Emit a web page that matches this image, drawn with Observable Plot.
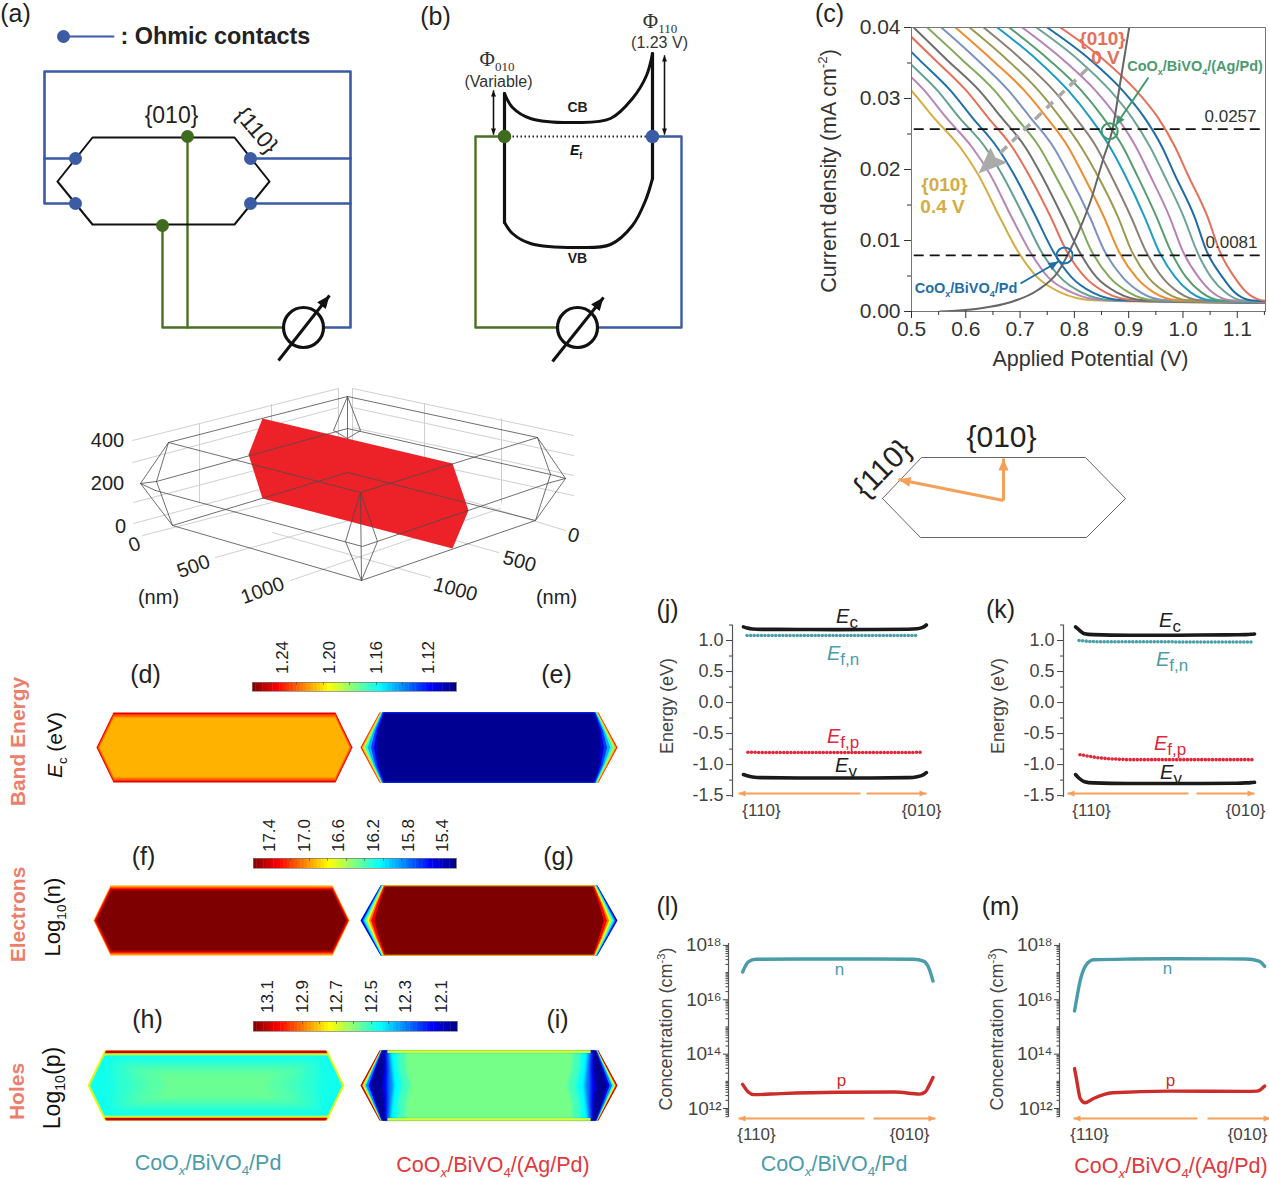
<!DOCTYPE html>
<html><head><meta charset="utf-8">
<script src="https://cdn.jsdelivr.net/npm/d3@7"></script>
<script src="https://cdn.jsdelivr.net/npm/@observablehq/plot@0.6"></script>
<style>
html,body{margin:0;background:#fff}
#page{position:relative;width:1269px;height:1178px;overflow:hidden;font-family:"Liberation Sans",Arial,sans-serif}
#page>svg,#page>div.p{position:absolute}
.r{position:absolute;white-space:nowrap;line-height:1.25}
.r sub,.r sup{font-size:.62em;line-height:0}
.r.big sub{font-size:.85em}
</style></head><body><div id="page"></div>
<script>
// ---------- panel (c): potential (V) where each of the 17 curves passes a given current
const currentLevels=[0.04,0.0354,0.0311,0.0273,0.0231,0.0194,0.0132,0.0086,0.0048,0.0027,0.0016];
const V_at_0400=[.388,.410,.432,.454,.482,.504,.529,.555,.581,.607,.633,.658,.680,.704,.730,.750,.774];
const V_at_0354=[.443,.467,.491,.515,.544,.566,.594,.622,.649,.677,.704,.732,.754,.780,.808,.830,.855];
const V_at_0311=[.500,.524,.548,.572,.601,.625,.653,.679,.708,.734,.762,.789,.813,.839,.866,.889,.914];
const V_at_0273=[.541,.564,.588,.612,.641,.666,.693,.719,.749,.774,.802,.829,.853,.879,.906,.929,.954];
const V_at_0231=[.590,.612,.636,.658,.686,.710,.736,.762,.789,.813,.841,.866,.890,.914,.940,.962,.986];
const V_at_0194=[.622,.644,.666,.688,.715,.738,.763,.789,.815,.841,.866,.892,.914,.938,.964,.984,1.008];
const V_at_0132=[.663,.685,.708,.730,.757,.779,.805,.829,.855,.881,.905,.930,.952,.976,1.002,1.022,1.046];
const V_at_0086=[.695,.717,.738,.760,.785,.808,.831,.855,.881,.905,.931,.955,.977,.999,1.025,1.043,1.067];
const V_at_0048=[.732,.752,.774,.795,.820,.841,.865,.889,.914,.936,.962,.986,1.006,1.029,1.052,1.073,1.095];
const V_at_0027=[.774,.795,.813,.833,.857,.878,.900,.922,.946,.968,.992,1.014,1.034,1.054,1.078,1.095,1.117];
const V_at_0016=[.835,.854,.870,.889,.911,.927,.947,.968,.990,1.008,1.030,1.051,1.067,1.087,1.107,1.124,1.143];
const tailCurrent=[.00120,.00122,.00124,.00126,.00128,.0013,.00132,.00133,.00134,.00135,.00136,.00138,.0014,.00142,.00144,.00146,.0015];
const curveColors=["#d4ad45","#b687b8","#64a08f","#1f70ab","#e5705a","#6e6e6e","#83a85c","#7a92bf","#ee8c2e","#9a9a52","#8f8076","#1f9cc4","#5a9c72","#b583b8","#6ea498","#1f6ca6","#e5705a"];
const ivV=[.553,.622,.682,.732,.769,.798,.830,.854,.870,.885,.901];
const ivJ=[0,.0004,.0013,.0030,.0055,.0096,.0156,.0217,.0256,.0325,.04];
const cXTicks=[.5,.6,.7,.8,.9,1.0,1.1], cXMinor=[.55,.65,.75,.85,.95,1.05,1.15];
const cYTicks=[0,.01,.02,.03,.04], cYMinor=[.005,.015,.025,.035];
const refLines=[.0257,.0079];
// ---------- panels (j)(k)
const bandX=[0,.02,.05,.1,.3,.5,.7,.9,.95,.98,1];
const ecJ=[1.22,1.2,1.185,1.18,1.178,1.176,1.178,1.182,1.19,1.21,1.25];
const evJ=[-1.16,-1.18,-1.2,-1.21,-1.215,-1.215,-1.215,-1.21,-1.195,-1.17,-1.13];
const ecK=[1.22,1.17,1.11,1.095,1.085,1.085,1.088,1.092,1.095,1.1,1.105];
const evK=[-1.16,-1.22,-1.275,-1.295,-1.305,-1.305,-1.305,-1.3,-1.295,-1.29,-1.285];
const dotX=[.02,.04,.06,.08,.1,.12,.14,.16,.18,.2,.22,.24,.26,.28,.3,.32,.34,.36,.38,.4,.42,.44,.46,.48,.5,.52,.54,.56,.58,.6,.62,.64,.66,.68,.7,.72,.74,.76,.78,.8,.82,.84,.86,.88,.9,.92,.94,.96,.98];
const efnJ=[1.08,1.08,1.08,1.08,1.08,1.08,1.08,1.08,1.08,1.08,1.08,1.08,1.08,1.08,1.08,1.08,1.08,1.08,1.08,1.08,1.08,1.08,1.08,1.08,1.08,1.08,1.08,1.08,1.08,1.08,1.08,1.08,1.08,1.08,1.08,1.08,1.08,1.08,1.08,1.08,1.08,1.08,1.08,1.08,1.08,1.08,1.08,1.08,null];
const efpJ=[-.8,-.8,-.8,-.805,-.805,-.805,-.805,-.805,-.805,-.805,-.805,-.805,-.805,-.805,-.805,-.805,-.805,-.805,-.805,-.805,-.805,-.805,-.805,-.805,-.805,-.805,-.805,-.805,-.805,-.805,-.805,-.805,-.805,-.805,-.805,-.805,-.805,-.805,-.805,-.805,-.805,-.805,-.805,-.805,-.805,-.805,-.805,-.8,-.8];
const efnK=[1.0,.995,.99,.985,.985,.98,.98,.98,.98,.98,.98,.98,.98,.98,.98,.98,.98,.98,.98,.98,.98,.98,.98,.98,.98,.98,.98,.975,.975,.975,.975,.975,.975,.975,.975,.975,.975,.975,.975,.975,.975,.975,.975,.975,.975,.975,.975,.975,.975];
const efpK=[-.84,-.85,-.86,-.87,-.88,-.89,-.895,-.9,-.905,-.91,-.91,-.915,-.915,-.92,-.92,-.92,-.92,-.92,-.92,-.92,-.92,-.92,-.92,-.92,-.92,-.92,-.92,-.92,-.92,-.92,-.92,-.92,-.92,-.92,-.92,-.92,-.92,-.92,-.92,-.92,-.92,-.92,-.92,-.92,-.92,-.92,-.92,-.92,-.92];
const energyTicks=[-1.5,-1,-.5,0,.5,1], energyMinor=[-1.25,-.75,-.25,.25,.75,1.25];
// ---------- panels (l)(m), log10 concentration
const nXL=[0,.03,.07,.3,.5,.7,.9,.95,.98,1];
const nL=[17.02,17.39,17.49,17.5,17.5,17.5,17.49,17.42,17.14,16.69];
const pXL=[0,.03,.06,.2,.5,.8,.93,.96,.98,1];
const pL=[12.89,12.61,12.51,12.55,12.6,12.61,12.53,12.61,12.85,13.14];
const nXM=[0,.01,.03,.06,.1,.3,.5,.9,.97,1];
const nM=[15.59,15.98,16.71,17.27,17.47,17.5,17.51,17.5,17.42,17.23];
const pXM=[0,.01,.03,.055,.1,.2,.5,.9,.96,1];
const pM=[13.47,13.1,12.37,12.21,12.37,12.58,12.64,12.63,12.64,12.83];
const concTicks=[1e12,1e14,1e16,1e18];
const supDigits={"1":"¹","2":"²","4":"⁴","6":"⁶","8":"⁸"};
// ---------- schematic outlines (sheet units)
const blueA=[[[44,158],[44,71],[350,71],[350,327],[323,327]],[[44,158],[74,158]],[[44,158],[44,203],[74,203]],[[249,158],[350,158]],[[249,203],[350,203]]];
const greenA=[[[187,136],[187,327]],[[162,225],[162,327],[283,327]]];
const hexA=[[57,181],[92,137],[234,137],[269,181],[234,224],[92,224],[57,181]];
const blueDotsA=[[75,158],[75,203],[250,158],[250,203]], greenDotsA=[[187,136],[162,225]];
const blueB=[[[652,136],[681,136],[681,327],[597,327]]], greenB=[[[504,136],[475,136],[475,327],[557,327]]];
const cbCurve=[[504,93],[512,107],[530,118],[577,122],[610,118],[632,98],[646,75],[652,53]];
const vbCurve=[[504,222],[512,233],[530,243],[577,247],[610,244],[632,225],[645,200],[652,178]];
const bandWalls=[[[504,93],[504,222]],[[652,53],[652,178]]];
const meters=[[303,327],[577,327]];
const meterArrows=[[278,360,329,295],[552,361,603,297]];
const doubleArrows=[[493,134,493,90],[493,90,493,134],[664,134,664,55],[664,55,664,134]];
const blockRed=[[262,418],[452,463],[468,510],[452,548],[262,498],[248,454]];
const wireDark=[[[168,442],[347,396],[537,437],[360,492],[168,442]],[[156,481],[347,428],[550,474]],[[155,490],[362,546],[550,482]],[[172,525],[361,580],[535,520],[347,472],[172,525]],[[360,492],[345,541],[361,580],[377,541],[360,492],[361,580]],[[347,396],[333,430],[347,438],[360,430],[347,396],[347,438]],[[168,442],[140,483],[172,525],[156,481],[168,442]],[[537,437],[565,478],[535,520],[550,474],[537,437]],[[140,483],[156,481]],[[140,483],[155,490]],[[565,478],[550,474]],[[565,478],[550,482]]];
const wireGrey=[[[132,440],[338,388]],[[132,462],[338,407]],[[133,502],[338,448]],[[133,523],[338,468]],[[142,535],[338,485]],[[352,388],[573,435]],[[352,407],[573,455]],[[352,427],[573,475]],[[352,447],[573,495]],[[352,465],[565,530]],[[215,557],[413,502]],[[290,580],[500,508]],[[498,552],[330,505]],[[430,577],[272,532]],[[199,423],[199,502]],[[271,404],[271,485]],[[338,388],[338,465]],[[352,388],[352,465]],[[424,403],[424,485]],[[501,418],[501,502]]];
const hexTop=[[882,498],[921,457],[1085,457],[1125,498],[1086,537],[920,537],[882,498]];
const orangeArrows=[[1003,500,1003,458],[1003,500,898,479],[860,793,738,793],[866,793,926,793],[1188,793,1067,793],[1196,793,1254,793],[864,1118,738,1118],[873,1118,935,1118],[1197,1118,1073,1118],[1207,1118,1270,1118]];
// ---------- maps: outline of each hexagon [left, right, top, bottom, corner run]
const outlineD=[96,352,712,782,17], outlineE=[360,617,712,782,19];
const outlineF=[93,349,885,955,17], outlineG=[360,617,885,955,20];
const outlineH=[87,344,1050,1120,17], outlineI=[360,617,1050,1120,19];
// contour layers of each map, painted in order: [level 0..1, top inset, corner inset, quarter inset, middle inset]
const layersD=[[.9,0,0,0,0],[.82,1.5,.8,1,1],[.76,3,1.6,1.8,1.8],[.70,5,2.8,3,3]];
const layersE=[[.85,0,0,0,0],[.7,0,.7,.9,1.3],[.55,0,1.3,2,2.7],[.42,0,2,3,4.6],[.3,0,2.6,4,7.2],[.18,0,3.2,5.4,10.4],[.08,0,4,7.2,13.6],[.02,0,5,9,17]];
const layersF=[[.72,0,0,0,0],[.85,2,.8,.8,.8],[.93,3.5,1.8,1.8,1.8],[1,5,3.2,3.2,3.2]];
const layersG=[[.08,0,0,0,0],[.25,0,.6,1.3,1.9],[.375,0,1.2,2.1,3.4],[.5,0,1.9,3.1,5],[.625,0,2.5,4.1,6.5],[.75,0,3.1,5.4,8.5],[.875,0,3.8,6.6,10.6],[1,.5,5,8.8,13.8]];
const layersH=[[.64,0,0,0,0],[.93,0,1.5,1.5,1.5],[.64,2.8,.6,.6,.6],[.55,3.8,1.4,1.4,1.4],[.39,5,2.4,2.4,2.6]];
const innerH=[[.40,8,8,12,18],[.42,11,15,22,30],[.44,14,28,35,45],[.46,18,40,48,60],[.48,22,60,68,80]];
const layersI=[[.98,0,0,0,0],[.85,0,.5,.8,.8],[.62,0,1,1.6,2],[.4,0,1.4,2.5,3.8],[.25,0,1.8,3.5,5.5],[.12,0,2.3,5,8],[.02,0,3,6,10.5]];
const innerI=[[.12,1,6,15,22],[.25,1,8,18,27],[.375,1,11,22,33],[.44,1,18,28,41],[.49,1,26,36,50]];
// thin edge stripes: [level, thickness, side inset]
const stripesE=[[.16,.8,3]], stripesG=[[.6,.8,4]], stripesI=[[.55,2.5,8],[.63,1.1,8]];
const jetLevels=[0,.125,.25,.375,.5,.625,.75,.875,1];
const jetColors=["#00007f","#0000ff","#007fff","#00ffff","#7fff7f","#ffff00","#ff7f00","#ff0000","#7f0000"];

// ---------- helpers
const page=document.getElementById("page");
const FF='"Liberation Sans",Arial,sans-serif';
const flat=list=>list.flatMap((pts,k)=>pts.map(([x,y])=>({x,y,k})));
const paths=(list,stroke,strokeWidth,extra={})=>Plot.line(flat(list),{x:"x",y:"y",z:"k",stroke,strokeWidth,...extra});
const xy=list=>list.map(([x,y])=>({x,y}));
function arrows(list,stroke,strokeWidth,len){
  const tips=list.flatMap(([a,b,c,d],k)=>{
    const l=Math.hypot(c-a,d-b),ux=(c-a)/l,uy=(d-b)/l,w=len*.42;
    return [{x:c,y:d,k},{x:c-ux*len-uy*w,y:d-uy*len+ux*w,k},{x:c-ux*len+uy*w,y:d-uy*len-ux*w,k}];
  });
  return [
    Plot.link(list,{x1:d=>d[0],y1:d=>d[1],x2:d=>d[2],y2:d=>d[3],stroke,strokeWidth}),
    Plot.line(tips,{x:"x",y:"y",z:"k",fill:stroke,stroke:"none",curve:"linear-closed"})
  ];
}
const txt=(list,o={})=>Plot.text(list,{x:d=>d[1],y:d=>d[2],text:d=>d[0],fontFamily:FF,fill:"#222",...o});
function rich(html,x,y,size,color="#222",o={}){
  const e=document.createElement("div");e.className="r"+(o.big?" big":"");e.innerHTML=html;
  e.style.cssText+=`left:${x}px;top:${y}px;font-size:${size}px;color:${color};transform:translate(-50%,-50%) rotate(${o.rot||0}deg);font-weight:${o.bold?700:400};font-family:${o.family||FF}`;
  page.appendChild(e);
}
function place(svg,left,top){svg.style.left=left+"px";svg.style.top=top+"px";page.appendChild(svg)}
function heatRows(outline,layers,stripes=[]){
  const [xl,xr,yt,yb,d]=outline,H=yb-yt,rows=[];
  const edge=y=>d*Math.abs(2*(y-yt)/H-1);
  const fr=[0,.25,.5,.75,1];
  layers.forEach(([t,tb,c,q,m],k)=>{
    const ins=[c,q,m,q,c];
    const ys=fr.map(f=>yt+tb+(H-2*tb)*f);
    ys.forEach((y,i)=>rows.push({x:xl+edge(y)+ins[i],y,k,t}));
    [...ys].reverse().forEach((y,j)=>{const i=4-j;rows.push({x:xr-edge(y)-ins[i],y,k,t})});
  });
  stripes.forEach(([t,h,s],n)=>{
    [[yt,yt+h],[yb-h,yb]].forEach(([a,b],w)=>{
      const k=100+n*2+w;
      [[xl+d+s,a],[xr-d-s,a],[xr-d-s,b],[xl+d+s,b]].forEach(([x,y])=>rows.push({x,y,k,t}));
    });
  });
  return rows;
}
const heat=(rows,blur=.6)=>Plot.line(rows,{x:"x",y:"y",z:"k",fill:"t",stroke:"none",curve:"linear-closed",imageFilter:`blur(${blur}px)`});
const barSteps=d3.range(0,60).map(i=>i/60);
const colorBar=(x0,x1,y0,y1,ticks)=>[
  Plot.rect(barSteps,{x1:s=>x0+s*(x1-x0),x2:s=>x0+(s+1/60)*(x1-x0)+.4,y1:()=>y0,y2:()=>y1,fill:s=>1-s-1/120}),
  paths([[[x0,y0],[x1,y0],[x1,y1],[x0,y1],[x0,y0]]],"#777",.7),
  paths(ticks.map(x=>[[x,y0],[x,y0+2]]),"#444",.6)
];

// ---------- panel (c)
const rowsC=[];
const levels=[V_at_0400,V_at_0354,V_at_0311,V_at_0273,V_at_0231,V_at_0194,V_at_0132,V_at_0086,V_at_0048,V_at_0027,V_at_0016];
curveColors.forEach((color,c)=>{
  levels.forEach((vs,l)=>rowsC.push({V:vs[c],J:currentLevels[l],c:String(c).padStart(2,"0")}));
  rowsC.push({V:1.152,J:tailCurrent[c],c:String(c).padStart(2,"0")});
});
const ivRows=ivV.map((V,i)=>({V,J:ivJ[i]}));
const chartC=Plot.plot({width:459,height:375,marginLeft:101,marginTop:27,marginRight:4,marginBottom:64,
  style:{background:"transparent",color:"#333",fontFamily:FF},
  x:{domain:[.5,1.152]},y:{domain:[0,.04]},
  color:{type:"ordinal",domain:curveColors.map((_,c)=>String(c).padStart(2,"0")),range:curveColors},
  marks:[
    Plot.line(rowsC,{x:"V",y:"J",z:"c",stroke:"c",strokeWidth:2,curve:"monotone-x",clip:"frame"}),
    Plot.line(ivRows,{x:"V",y:"J",stroke:"#666",strokeWidth:2,curve:"monotone-x",clip:"frame"}),
    Plot.ruleY(refLines,{stroke:"#111",strokeWidth:1.7,strokeDasharray:"10,6",x1:.505,x2:1.15}),
    Plot.dot([[.865,.0254]],{x:d=>d[0],y:d=>d[1],r:8,stroke:"#3f9a6a",strokeWidth:2}),
    Plot.dot([[.782,.0079]],{x:d=>d[0],y:d=>d[1],r:8,stroke:"#1f6fa8",strokeWidth:2}),
    Plot.frame({stroke:"#777",strokeWidth:1}),
    Plot.axisX(cXTicks,{tickSize:7,tickPadding:3,fontSize:21,label:null,tickFormat:d=>d.toFixed(1)}),
    Plot.axisX(cXMinor,{tickSize:4,text:null,label:null}),
    Plot.axisY(cYTicks,{tickSize:7,tickPadding:4,fontSize:21,label:null,tickFormat:d=>d.toFixed(2)}),
    Plot.axisY(cYMinor,{tickSize:4,text:null,label:null})
  ]});
place(chartC,810,0);

// ---------- panels (j)(k)
function energy(left,marginLeft,domain,width,ec,ev,efn,efp,xn){
  const rows=(ys)=>bandX.map((x,i)=>({x,y:ys[i]}));
  const dots=(ys)=>dotX.map((x,i)=>({x,y:ys[i]})).filter(d=>d.y!=null);
  const p=Plot.plot({width,height:222,marginLeft,marginRight:0,marginTop:34.5,marginBottom:15,
    style:{background:"transparent",color:"#444",fontFamily:FF},
    x:{domain,axis:null},y:{domain:[-1.53,1.25]},
    marks:[
      Plot.ruleX([domain[0]],{stroke:"#555",strokeWidth:1.2}),
      Plot.axisY(energyTicks,{tickSize:6,tickPadding:3,fontSize:18,label:null,tickFormat:d=>d.toFixed(1)}),
      Plot.axisY(energyMinor,{tickSize:3,text:null,label:null}),
      Plot.line(rows(ec),{x:"x",y:"y",stroke:"#1a1a1a",strokeWidth:3.6,curve:"monotone-x"}),
      Plot.line(rows(ev),{x:"x",y:"y",stroke:"#1a1a1a",strokeWidth:3.6,curve:"monotone-x"}),
      Plot.dot(dots(efn),{x:d=>d.x*xn,y:"y",r:1.8,fill:"#4a9fa8"}),
      Plot.dot(dots(efp),{x:d=>d.x*xn+.005,y:"y",r:1.8,fill:"#e0283a"})
    ]});
  place(p,left,590);
}
energy(640,92,[-.06,1.05],295,ecJ,evJ,efnJ,efpJ,.98);
energy(975,88,[-.067,1.05],288,ecK,evK,efnK,efpK,1);

// ---------- panels (l)(m)
const minorConc=[12,13,14,15,16,17].flatMap(e=>[2,3,4,5,6,7,8,9].map(m=>m*10**e)).concat([5e11,6e11,7e11,8e11,9e11,1e13,1e15,1e17]);
function conc(left,marginLeft,domain,width,nx,ny,px,py){
  const rows=(xs,ys)=>xs.map((x,i)=>({x,y:10**ys[i]}));
  const p=Plot.plot({width,height:244,marginLeft,marginRight:0,marginTop:53,marginBottom:17,
    style:{background:"transparent",color:"#444",fontFamily:FF},
    x:{domain,axis:null},y:{type:"log",domain:[10**11.67,10**18.07]},
    marks:[
      Plot.ruleX([domain[0]],{stroke:"#555",strokeWidth:1.2}),
      Plot.axisY(concTicks,{tickSize:5,tickPadding:2,fontSize:19,label:null,tickFormat:d=>"10"+String(Math.round(Math.log10(d))).split("").map(c=>supDigits[c]).join("")}),
      Plot.axisY(minorConc,{tickSize:2.5,text:null,label:null}),
      Plot.line(rows(nx,ny),{x:"x",y:"y",stroke:"#4a9cab",strokeWidth:3.4,curve:"monotone-x"}),
      Plot.line(rows(px,py),{x:"x",y:"y",stroke:"#cb2d2a",strokeWidth:3.4,curve:"monotone-x"})
    ]});
  place(p,left,890);
}
conc(640,88,[-.074,1.05],302,nXL,nL,pXL,pL);
conc(975,84,[-.079,1.02],293,nXM,nM,pXM,pM);

// ---------- sheet layer: schematics, maps, annotations
const sheet=Plot.plot({width:1269,height:1178,margin:0,
  style:{background:"transparent",fontFamily:FF},
  x:{domain:[0,1269],range:[0,1269],axis:null},y:{domain:[0,1178],range:[0,1178],axis:null},
  color:{type:"linear",domain:jetLevels,range:jetColors},
  marks:[
    // (a)
    Plot.line(xy([[63,36],[113,36]]),{x:"x",y:"y",stroke:"#3b5ba5",strokeWidth:2}),
    Plot.dot([[63,36]],{x:d=>d[0],y:d=>d[1],r:6.5,fill:"#3b5ba5"}),
    paths(blueA,"#3b5ba5",2.6),
    paths(greenA,"#4a7023",2.4),
    Plot.line(xy(hexA),{x:"x",y:"y",stroke:"#111",strokeWidth:2}),
    Plot.dot(blueDotsA,{x:d=>d[0],y:d=>d[1],r:6.5,fill:"#3b5ba5"}),
    Plot.dot(greenDotsA,{x:d=>d[0],y:d=>d[1],r:6.5,fill:"#3f6b1e"}),
    // (b)
    paths(blueB,"#3b5ba5",2.4),
    paths(greenB,"#4a7023",2.4),
    paths(bandWalls,"#111",3.2),
    Plot.line(xy(cbCurve),{x:"x",y:"y",stroke:"#111",strokeWidth:3,curve:"catmull-rom"}),
    Plot.line(xy(vbCurve),{x:"x",y:"y",stroke:"#111",strokeWidth:3,curve:"catmull-rom"}),
    Plot.line(xy([[504,136],[652,136]]),{x:"x",y:"y",stroke:"#222",strokeWidth:2,strokeDasharray:"1.5,2.5",strokeLinecap:"butt"}),
    Plot.dot([[504,136]],{x:d=>d[0],y:d=>d[1],r:6.8,fill:"#3f6b1e"}),
    Plot.dot([[652,136]],{x:d=>d[0],y:d=>d[1],r:6.8,fill:"#3b5ba5"}),
    ...arrows(doubleArrows,"#111",1.3,6),
    Plot.dot(meters,{x:d=>d[0],y:d=>d[1],r:20,stroke:"#111",strokeWidth:3.2,fill:"white"}),
    ...arrows(meterArrows,"#111",3,13),
    // 3D wireframe
    paths(wireGrey,"#c9c9c9",.9),
    Plot.line(xy(blockRed),{x:"x",y:"y",fill:"#ec2228",stroke:"none",curve:"linear-closed"}),
    paths(wireDark,"#4a4a4a",.8),
    // hexagon with normals
    Plot.line(xy(hexTop),{x:"x",y:"y",stroke:"#555",strokeWidth:.9}),
    ...arrows(orangeArrows.slice(0,2),"#f5a05a",3,12),
    ...arrows(orangeArrows.slice(2),"#f5a05a",2,7),
    // maps
    heat(heatRows(outlineD,layersD),.7),
    heat(heatRows(outlineE,layersE,stripesE)),
    heat(heatRows(outlineF,layersF),.7),
    heat(heatRows(outlineG,layersG,stripesG)),
    heat(heatRows(outlineH,layersH)),
    heat(heatRows(outlineH,innerH),3),
    heat(heatRows(outlineI,layersI)),
    heat(heatRows(outlineI,innerI),1.6),
    heat(heatRows(outlineI,[],stripesI)),
    ...colorBar(252,456,682,691,[270,296,323,349,376,402,429]),
    ...colorBar(253,456,858,868,[271,290,309,327,346,364,383,401,420,438]),
    ...colorBar(253,457,1021,1031,[268,285,302,319,336,353,371,388,405,422,440]),
    // chart (c) annotations
    Plot.line(xy([[1087,68],[995,157]]),{x:"x",y:"y",stroke:"#aaa",strokeWidth:3.5,strokeDasharray:"9,7",strokeLinecap:"butt"}),
    Plot.line(xy([[978,173],[990,147],[995,157],[1007,162]]),{x:"x",y:"y",fill:"#aaa",stroke:"none",curve:"linear-closed"}),
    ...arrows([[1148,77,1115,125]],"#3f9a6a",2,10),
    ...arrows([[1020,283,1058,261]],"#1f6fa8",2,10),
    // plain text
    txt([["(a)",15,13],["(b)",435,16],["(c)",829,13],["(d)",145,674],["(e)",556,674],["(f)",143,856],["(g)",558,856],["(h)",147,1019],["(i)",557,1019],["(j)",667,609],["(k)",1000,609],["(l)",667,906],["(m)",1000,906]],{fontSize:25}),
    txt([["{010}",171,115]],{fontSize:23}),
    txt([["{110}",256,130]],{fontSize:23,rotate:50}),
    txt([["CB",577,107],["VB",577,258]],{fontSize:14,fontWeight:700}),
    txt([["(Variable)",498,81],["(1.23 V)",659,42]],{fontSize:16,fill:"#333"}),
    txt([[": Ohmic contacts",120,36]],{fontSize:23.4,fontWeight:700,textAnchor:"start"}),
    txt([["400",107,440],["200",107,483],["0",120,526]],{fontSize:20}),
    txt([["0",134,544],["500",193,566],["1000",262,590]],{fontSize:20,rotate:-20}),
    txt([["0",573,535],["500",519,561],["1000",455,589]],{fontSize:20,rotate:15}),
    txt([["(nm)",158,597],["(nm)",556,597]],{fontSize:20}),
    txt([["{010}",1001,437]],{fontSize:30}),
    txt([["{110}",882,468]],{fontSize:30,rotate:-45}),
    txt([["0.0257",1230,116],["0.0081",1231,242]],{fontSize:17,fill:"#333"}),
    txt([["{010}",1102,38],["0 V",1105,57]],{fontSize:19,fontWeight:700,fill:"#e5705a"}),
    txt([["{010}",944,184],["0.4 V",942,206]],{fontSize:19,fontWeight:700,fill:"#d4ad45"}),
    txt([["Applied Potential (V)",1090,359]],{fontSize:21.5,fill:"#333"}),
    txt([["Band Energy",18,741],["Electrons",18,914],["Holes",17,1091]],{fontSize:21,fontWeight:700,rotate:-90,fill:"#ec7f6c"}),
    txt([["1.24",282,657],["1.20",329,657],["1.16",376,657],["1.12",428,657]],{fontSize:17,rotate:-90}),
    txt([["17.4",269,835],["17.0",304,835],["16.6",338,835],["16.2",373,835],["15.8",408,835],["15.4",442,835]],{fontSize:17,rotate:-90}),
    txt([["13.1",267,996],["12.9",302,996],["12.7",336,996],["12.5",371,996],["12.3",405,996],["12.1",441,996]],{fontSize:17,rotate:-90}),
    txt([["{110}",761,810],["{010}",921,810],["{110}",1091,810],["{010}",1245,810],["{110}",756,1134],["{010}",909,1134],["{110}",1089,1134],["{010}",1247,1134]],{fontSize:17,fill:"#444"}),
    txt([["n",839,969],["n",1167,968]],{fontSize:17,fill:"#4a9cab"}),
    txt([["p",841,1080],["p",1170,1080]],{fontSize:17,fill:"#cb2d2a"})
  ]});
place(sheet,0,0);

// ---------- text that needs sub/superscripts
const serif='"Liberation Serif",serif';
rich("Φ<sub>010</sub>",497,59,21,"#333",{family:serif});
rich("Φ<sub>110</sub>",660,21,21,"#333",{family:serif});
rich("<i>E</i><sub>f</sub>",576,151,14,"#111",{bold:true});
rich("Current density (mA cm<sup>-2</sup>)",829,171,21.5,"#333",{rot:-90});
rich("CoO<sub>x</sub>/BiVO<sub>4</sub>/(Ag/Pd)",1195,66,14.5,"#4c9a70",{bold:true});
rich("CoO<sub>x</sub>/BiVO<sub>4</sub>/Pd",966,288,14.5,"#1f6fa8",{bold:true});
rich("<i>E</i><sub>c</sub> (eV)",55,745,21,"#111",{rot:-90});
rich("Log<sub>10</sub>(n)",53,917,22,"#111",{rot:-90});
rich("Log<sub>10</sub>(p)",52,1088,23,"#111",{rot:-90});
const teal="#4a9cab",red="#e0393e";
[[208,1163,teal,"Pd"],[493,1165,red,"(Ag/Pd)"],[834,1164,teal,"Pd"],[1171,1166,red,"(Ag/Pd)"]].forEach(([x,y,c,m])=>
  rich(`CoO<sub><i>x</i></sub>/BiVO<sub>4</sub>/${m}`,x,y,21.5,c));
[[667,706],[998,706]].forEach(([x,y])=>rich("Energy (eV)",x,y,18,"#444",{rot:-90}));
[[666,1029],[997,1029]].forEach(([x,y])=>rich("Concentration (cm<sup>-3</sup>)",x,y,18,"#444",{rot:-90}));
rich("<i>E</i><sub>c</sub>",847,616,20,"#222",{big:true});rich("<i>E</i><sub>c</sub>",1170,620,20,"#222",{big:true});
rich("<i>E</i><sub>f,n</sub>",843,653,20,teal,{big:true});rich("<i>E</i><sub>f,n</sub>",1172,659,20,teal,{big:true});
rich("<i>E</i><sub>f,p</sub>",843,736,20,"#e0283a",{big:true});rich("<i>E</i><sub>f,p</sub>",1170,743,20,"#e0283a",{big:true});
rich("<i>E</i><sub>v</sub>",846,765,20,"#222",{big:true});rich("<i>E</i><sub>v</sub>",1171,772,20,"#222",{big:true});
</script></body></html>
